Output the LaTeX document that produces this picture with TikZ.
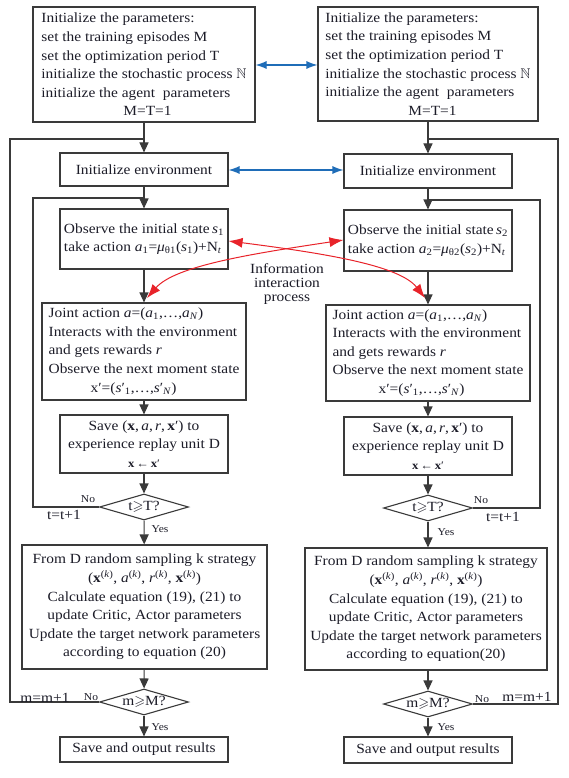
\RequirePackage{fix-cm}
\documentclass[tikz,border=0pt]{standalone}
\usepackage{amssymb}
\usepackage{fontspec}
\setmainfont{Liberation Serif}[FakeStretch=1.1]
\usetikzlibrary{shapes.geometric,arrows.meta}
\definecolor{lineC}{HTML}{3A3A3A}
\definecolor{txtC}{HTML}{1C1C28}
\definecolor{blueC}{HTML}{1F6DB8}
\definecolor{redC}{HTML}{E8232A}
\newcommand\vi[1]{\textit{#1}}
\newcommand\sbx[1]{\textsubscript{#1}}
\newcommand\spx[1]{\textsuperscript{#1}}
\newcommand\smallish{\fontsize{11.5}{12}\selectfont}
\tikzset{
  box/.style={draw=lineC, line width=1.1pt, rectangle, inner sep=3pt, text=txtC,
              font=\fontsize{14}{18.6}\selectfont},
  dia/.style={draw=lineC, line width=1.1pt, diamond, aspect=3.4, inner sep=0pt,
              minimum width=89pt, minimum height=26pt, text=txtC,
              font=\fontsize{14}{15}\selectfont},
  flow/.style={draw=lineC, line width=1.1pt, -{Triangle[width=9pt,length=10pt]}},
  plain/.style={draw=lineC, line width=1.1pt},
  bluearr/.style={draw=blueC, line width=1.1pt, {Latex[width=8pt,length=11pt]}-{Latex[width=8pt,length=11pt]}},
  redarr/.style={draw=redC, line width=1pt, {Latex[width=10pt,length=14pt]}-{Latex[width=10pt,length=14pt]}},
  lbl/.style={text=txtC, font=\fontsize{14}{15}\selectfont, inner sep=0pt},
  small/.style={text=txtC, font=\fontsize{10.5}{12}\selectfont, inner sep=0pt}
}
\begin{document}
\begin{tikzpicture}[x=1pt,y=-1pt]
\useasboundingbox (0,0) rectangle (569,778);
\fill[white] (0,0) rectangle (569,778);

% ---------- left column ----------
\node[box, minimum width=222pt, minimum height=115pt, align=left] (p1) at (144,64.5)
 {Initialize the parameters:\\ set the training episodes M\\ set the optimization period T\\ initialize the stochastic process $\mathbb{N}$\\ initialize the agent\ \ parameters\\ \hspace*{82pt}M=T=1};
\node[box, minimum width=168pt, minimum height=33pt] (e1) at (144,169.5) {Initialize environment};
\node[box, minimum width=168pt, minimum height=60pt, align=left] (o1) at (144,239)
 {Observe the initial state\,\vi{s}\sbx{1}\\ take action \vi{a}\sbx{1}=\vi{μ}\sbx{θ1}(\vi{s}\sbx{1})+N\sbx{\vi{t}}};
\node[box, minimum width=204pt, minimum height=97pt, align=left] (j1) at (144,351.5)
 {Joint action \vi{a}=(\vi{a}\sbx{1},…,\vi{a}\sbx{\vi{N}})\\ Interacts with the environment\\ and gets rewards \vi{r}\\ Observe the next moment state\\ \hspace*{42pt}x′=(\vi{s}′\sbx{1},…,\vi{s}′\sbx{\vi{N}})};
\node[box, minimum width=168pt, minimum height=58pt, align=center] (s1) at (144,444)
 {Save (\textbf{x},\,\vi{a},\,\vi{r},\,\textbf{x}′) to\\ experience replay unit D\\ {\smallish\textbf{x}\,←\,\textbf{x}′}};
\node[dia] (d1) at (144,507) {t$\geqslant$T?};
\node[box, minimum width=245pt, minimum height=124pt, align=center] (b1) at (144.5,607)
 {From D random sampling k strategy\\ (\textbf{x}\spx{(\vi{k})}, \vi{a}\spx{(\vi{k})}, \vi{r}\spx{(\vi{k})}, \textbf{x}\spx{(\vi{k})})\\ Calculate equation (19), (21) to\\ update Critic, Actor parameters\\ Update the target network parameters\\ according to equation (20)};
\node[dia] (m1) at (144,702) {m$\geqslant$M?};
\node[box, minimum width=168pt, minimum height=25pt] (r1) at (144,749.5) {Save and output results};

% ---------- right column ----------
\node[box, minimum width=220pt, minimum height=114pt, align=left] (p2) at (428,64)
 {Initialize the parameters:\\ set the training episodes M\\ set the optimization period T\\ initialize the stochastic process $\mathbb{N}$\\ initialize the agent\ \ parameters\\ \hspace*{83pt}M=T=1};
\node[box, minimum width=168pt, minimum height=34pt] (e2) at (428,171) {Initialize environment};
\node[box, minimum width=168pt, minimum height=61pt, align=left] (o2) at (428,240.5)
 {Observe the initial state\,\vi{s}\sbx{2}\\ take action \vi{a}\sbx{2}=\vi{μ}\sbx{θ2}(\vi{s}\sbx{2})+N\sbx{\vi{t}}};
\node[box, minimum width=204pt, minimum height=96pt, align=left] (j2) at (428,353)
 {Joint action \vi{a}=(\vi{a}\sbx{1},…,\vi{a}\sbx{\vi{N}})\\ Interacts with the environment\\ and gets rewards \vi{r}\\ Observe the next moment state\\ \hspace*{46pt}x′=(\vi{s}′\sbx{1},…,\vi{s}′\sbx{\vi{N}})};
\node[box, minimum width=168pt, minimum height=58pt, align=center] (s2) at (428,446)
 {Save (\textbf{x},\,\vi{a},\,\vi{r},\,\textbf{x}′) to\\ experience replay unit D\\ {\smallish\textbf{x}\,←\,\textbf{x}′}};
\node[dia] (d2) at (428,508) {t$\geqslant$T?};
\node[box, minimum width=242pt, minimum height=122pt, align=center] (b2) at (426,609)
 {From D random sampling k strategy\\ (\textbf{x}\spx{(\vi{k})}, \vi{a}\spx{(\vi{k})}, \vi{r}\spx{(\vi{k})}, \textbf{x}\spx{(\vi{k})})\\ Calculate equation (19), (21) to\\ update Critic, Actor parameters\\ Update the target network parameters\\ according to equation(20)};
\node[dia] (m2) at (428,704) {m$\geqslant$M?};
\node[box, minimum width=168pt, minimum height=26pt] (r2) at (428,750) {Save and output results};

% ---------- loop corner coordinates ----------
\coordinate (oL1) at (10,702);
\coordinate (oL2) at (10,139);
\coordinate (oL3) at (144,139);
\coordinate (iL1) at (33,507);
\coordinate (iL2) at (33,198);
\coordinate (iL3) at (144,198);
\coordinate (oR1) at (558,704);
\coordinate (oR2) at (558,139);
\coordinate (oR3) at (428,139);
\coordinate (iR1) at (540,508);
\coordinate (iR2) at (540,200);
\coordinate (iR3) at (428,200);

% ---------- left flow ----------
\draw[flow] (p1) -- (e1);
\draw[flow] (e1) -- (o1);
\draw[flow] (o1) -- (j1);
\draw[flow] (j1) -- (s1);
\draw[flow] (s1) -- (d1);
\draw[flow] (d1) -- (b1);
\draw[flow] (b1) -- (m1);
\draw[flow] (m1) -- (r1);
\draw[plain] (d1.west) -- (iL1) -- (iL2) -- (iL3);
\draw[plain] (m1.west) -- (oL1) -- (oL2) -- (oL3);

% ---------- right flow ----------
\draw[flow] (p2) -- (e2);
\draw[flow] (e2) -- (o2);
\draw[flow] (o2) -- (j2);
\draw[flow] (j2) -- (s2);
\draw[flow] (s2) -- (d2);
\draw[flow] (d2) -- (b2.north -| d2);
\draw[flow] (b2.south -| m2) -- (m2);
\draw[flow] (m2) -- (r2);
\draw[plain] (d2.east) -- (iR1) -- (iR2) -- (iR3);
\draw[plain] (m2.east) -- (oR1) -- (oR2) -- (oR3);

% ---------- loop labels ----------
\node[small] (no1) at (88,499) {No};
\node[lbl] (tt1) at (64,515) {t=t+1};
\node[small] (y1) at (160,529) {Yes};
\node[small] (no2) at (481,500) {No};
\node[lbl] (tt2) at (503,517) {t=t+1};
\node[small] (y2) at (446,532) {Yes};
\node[lbl] (mm1) at (45,698) {m=m+1};
\node[small] (no3) at (91,697) {No};
\node[small] (y3) at (160,727) {Yes};
\node[small] (no4) at (482,699) {No};
\node[lbl] (mm2) at (527,697) {m=m+1};
\node[small] (y4) at (446,727) {Yes};

% ---------- blue connections ----------
\draw[bluearr] (p1.east |- 0,65) -- (p2.west |- 0,65);
\draw[bluearr] (e1.east |- 0,170) -- (e2.west |- 0,170);

% ---------- information interaction ----------
\coordinate (ra) at (425,298);
\coordinate (rb) at (147,298);
\draw[redarr] (o1.east |- 0,241) .. controls (330,254) and (400,266) .. (ra);
\draw[redarr] (o2.west |- 0,240) .. controls (250,254) and (175,266) .. (rb);
\node[lbl, align=center, font=\fontsize{14}{14}\selectfont] (info) at (287,284) {Information\\ interaction\\ process};

\end{tikzpicture}
\end{document}
